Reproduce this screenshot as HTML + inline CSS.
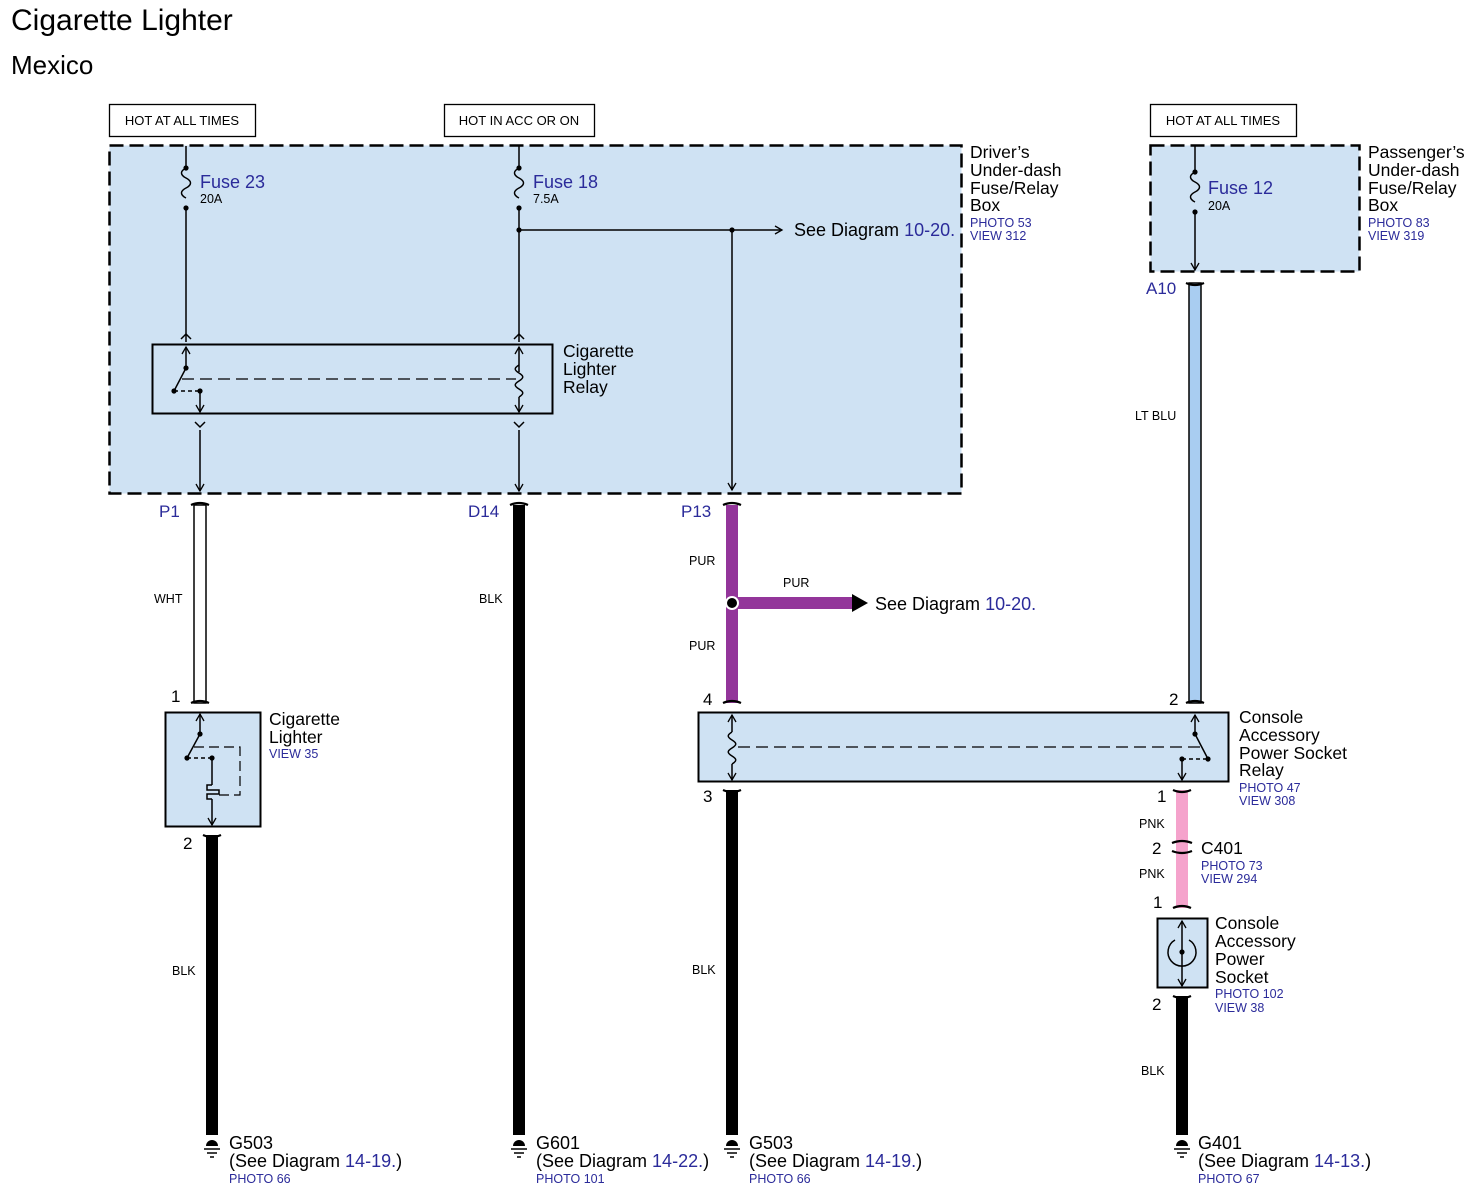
<!DOCTYPE html>
<html><head><meta charset="utf-8"><style>
html,body{margin:0;padding:0;background:#fff}
svg{display:block}
text{font-family:"Liberation Sans",sans-serif}
.b{fill:#2b2b9a}
</style></head><body>
<svg width="1478" height="1191" viewBox="0 0 1478 1191" xmlns="http://www.w3.org/2000/svg">
<defs>
<marker id="ah" markerWidth="10" markerHeight="10" refX="8" refY="5" orient="auto" markerUnits="userSpaceOnUse"><path d="M1,1 L8,5 L1,9" fill="none" stroke="#000" stroke-width="1.3"/></marker>
</defs>
<text x="11" y="30" font-size="30">Cigarette Lighter</text>
<text x="11" y="74" font-size="26">Mexico</text>

<g font-size="13" stroke-width="1.3">
<rect x="109.5" y="104.5" width="146" height="32" fill="#fff" stroke="#000"/>
<text x="182" y="125" text-anchor="middle">HOT AT ALL TIMES</text>
<rect x="444.5" y="104.5" width="150" height="32" fill="#fff" stroke="#000"/>
<text x="519" y="125" text-anchor="middle">HOT IN ACC OR ON</text>
<rect x="1150.5" y="104.5" width="146" height="32" fill="#fff" stroke="#000"/>
<text x="1223" y="125" text-anchor="middle">HOT AT ALL TIMES</text>
</g>

<rect x="109.5" y="145.5" width="852" height="348" fill="#cfe2f3" stroke="#000" stroke-width="2.5" stroke-dasharray="14,6"/>
<rect x="1150.5" y="145.5" width="209" height="126" fill="#cfe2f3" stroke="#000" stroke-width="2.5" stroke-dasharray="14,6"/>

<g font-size="17.5">
<text x="970" y="158">Driver’s</text><text x="970" y="176">Under-dash</text><text x="970" y="194">Fuse/Relay</text><text x="970" y="211">Box</text>
<text x="1368" y="158">Passenger’s</text><text x="1368" y="176">Under-dash</text><text x="1368" y="194">Fuse/Relay</text><text x="1368" y="211">Box</text>
</g>
<g font-size="12.5" class="b">
<text x="970" y="227">PHOTO 53</text><text x="970" y="240">VIEW 312</text>
<text x="1368" y="227">PHOTO 83</text><text x="1368" y="240">VIEW 319</text>
</g>

<g stroke="#000" stroke-width="1.5" fill="none">
<line x1="186" y1="146" x2="186" y2="168"/>
<path d="M186,168 c-6,3 -6,7 0,10 c6,3 6,7 0,10 c-6,3 -6,7 0,10"/>
<line x1="186" y1="208" x2="186" y2="342"/>
<line x1="519" y1="146" x2="519" y2="168"/>
<path d="M519,168 c-6,3 -6,7 0,10 c6,3 6,7 0,10 c-6,3 -6,7 0,10"/>
<line x1="519" y1="208" x2="519" y2="342"/>
<line x1="519" y1="230" x2="782" y2="230" marker-end="url(#ah)"/>
<line x1="732" y1="230" x2="732" y2="490" marker-end="url(#ah)"/>
<line x1="1195" y1="146" x2="1195" y2="172"/>
<path d="M1195,172 c-6,3 -6,7 0,10 c6,3 6,7 0,10 c-6,3 -6,7 0,10"/>
<line x1="1195" y1="212" x2="1195" y2="270" marker-end="url(#ah)"/>
<path d="M181,339 l5,-5 l5,5 M514,339 l5,-5 l5,5 M195,422 l5,5 l5,-5 M514,422 l5,5 l5,-5"/>
</g>
<g fill="#000">
<circle cx="186" cy="168" r="2.6"/><circle cx="186" cy="208" r="2.6"/>
<circle cx="519" cy="168" r="2.6"/><circle cx="519" cy="208" r="2.6"/><circle cx="519" cy="230" r="2.6"/><circle cx="732" cy="230" r="2.6"/>
<circle cx="1195" cy="172" r="2.6"/><circle cx="1195" cy="212" r="2.6"/>
</g>
<g font-size="18" class="b"><text x="200" y="188">Fuse 23</text><text x="533" y="188">Fuse 18</text><text x="1208" y="194">Fuse 12</text></g>
<g font-size="12.5"><text x="200" y="203">20A</text><text x="533" y="203">7.5A</text><text x="1208" y="210">20A</text></g>
<text x="794" y="236" font-size="18">See Diagram <tspan class="b">10-20.</tspan></text>

<rect x="152.5" y="344.5" width="400" height="69" fill="#cfe2f3" stroke="#000" stroke-width="2"/>
<g stroke="#000" stroke-width="1.5" fill="none">
<line x1="186" y1="368" x2="186" y2="347" marker-end="url(#ah)"/>
<line x1="186" y1="368" x2="174" y2="391"/>
<path d="M174,391 L200,391" stroke-dasharray="4,3"/>
<line x1="200" y1="391" x2="200" y2="412" marker-end="url(#ah)"/>
<line x1="182" y1="379" x2="516" y2="379" stroke-dasharray="12,6" stroke-width="1.2"/>
<line x1="519" y1="372" x2="519" y2="347" marker-end="url(#ah)"/>
<path d="M519,365 c-5,3 -5,5 0,8 c5,3 5,5 0,8 c-5,3 -5,5 0,8 c5,3 5,5 0,8"/>
<line x1="519" y1="397" x2="519" y2="412" marker-end="url(#ah)"/>
<line x1="200" y1="430" x2="200" y2="491" marker-end="url(#ah)"/>
<line x1="519" y1="430" x2="519" y2="491" marker-end="url(#ah)"/>
</g>
<circle cx="186" cy="368" r="2.6"/><circle cx="174" cy="391" r="2.6"/><circle cx="200" cy="391" r="2.6"/>
<g font-size="17.5"><text x="563" y="357">Cigarette</text><text x="563" y="375">Lighter</text><text x="563" y="393">Relay</text></g>

<g font-size="17" class="b"><text x="159" y="517">P1</text><text x="468" y="517">D14</text><text x="681" y="517">P13</text><text x="1146" y="294">A10</text></g>

<rect x="194" y="505" width="12" height="198" fill="#fff" stroke="#000" stroke-width="1.5"/>
<rect x="513" y="505" width="12" height="630" fill="#000"/>
<rect x="726" y="505" width="12" height="198" fill="#93359a"/>
<rect x="738" y="597" width="117" height="12" fill="#93359a"/>
<path d="M852,594 L868,603 L852,612 Z" fill="#000"/>
<circle cx="732" cy="603" r="7" fill="#fff"/><circle cx="732" cy="603" r="5" fill="#000"/>
<rect x="1189" y="283" width="12" height="420" fill="#a9cdf1" stroke="#000" stroke-width="1.5"/>
<rect x="206" y="835" width="12" height="300" fill="#000"/>
<rect x="726" y="790" width="12" height="345" fill="#000"/>
<rect x="1176" y="790" width="12" height="118" fill="#f5a3cc"/>
<rect x="1176" y="996" width="12" height="139" fill="#000"/>

<g stroke="#000" stroke-width="2.2" fill="none">
<path d="M191,505 q9,-4 18,0 M510,505 q9,-4 18,0 M723,505 q9,-4 18,0"/>
<path d="M191,703 q9,-4 18,0 M723,703 q9,-4 18,0 M1186,703 q9,-4 18,0 M1186,283 q9,4 18,0"/>
<path d="M203,835 q9,4 18,0 M723,790 q9,4 18,0 M1173,790 q9,4 18,0 M1173,908 q9,-4 18,0 M1173,996 q9,4 18,0"/>
<path d="M1172,843 q10,-4 20,0 M1172,851 q10,4 20,0"/>
</g>
<g font-size="12.5">
<text x="154" y="603">WHT</text><text x="479" y="603">BLK</text><text x="689" y="565">PUR</text><text x="783" y="587">PUR</text><text x="689" y="650">PUR</text>
<text x="1135" y="420">LT BLU</text><text x="172" y="975">BLK</text><text x="692" y="974">BLK</text>
<text x="1139" y="828">PNK</text><text x="1139" y="878">PNK</text><text x="1141" y="1075">BLK</text>
</g>
<text x="875" y="610" font-size="18">See Diagram <tspan class="b">10-20.</tspan></text>

<rect x="165.5" y="712.5" width="95" height="114" fill="#cfe2f3" stroke="#000" stroke-width="2"/>
<g stroke="#000" stroke-width="1.5" fill="none">
<line x1="200" y1="734" x2="200" y2="714" marker-end="url(#ah)"/>
<line x1="200" y1="734" x2="187" y2="758"/>
<path d="M187,758 L212,758" stroke-dasharray="4,3"/>
<path d="M194,747 L240,747 L240,795 L215,795" stroke-dasharray="10,5" stroke-width="1.2"/>
<line x1="212" y1="758" x2="212" y2="785"/>
<path d="M212,785 h-5 v5 h12 v4 h-12 v5 h5"/>
<line x1="212" y1="799" x2="212" y2="825" marker-end="url(#ah)"/>
</g>
<circle cx="200" cy="734" r="2.6"/><circle cx="187" cy="758" r="2.6"/><circle cx="212" cy="758" r="2.6"/>
<g font-size="17.5"><text x="269" y="725">Cigarette</text><text x="269" y="743">Lighter</text></g>
<text x="269" y="758" font-size="12.5" class="b">VIEW 35</text>
<g font-size="17"><text x="171" y="702">1</text><text x="183" y="849">2</text><text x="703" y="705">4</text><text x="703" y="802">3</text><text x="1169" y="705">2</text><text x="1157" y="802">1</text><text x="1152" y="854">2</text><text x="1153" y="908">1</text><text x="1152" y="1010">2</text></g>

<rect x="698.5" y="712.5" width="530" height="69" fill="#cfe2f3" stroke="#000" stroke-width="2"/>
<g stroke="#000" stroke-width="1.5" fill="none">
<line x1="732" y1="732" x2="732" y2="715" marker-end="url(#ah)"/>
<path d="M732,732 c-5,3 -5,5 0,8 c5,3 5,5 0,8 c-5,3 -5,5 0,8 c5,3 5,5 0,8"/>
<line x1="732" y1="764" x2="732" y2="780" marker-end="url(#ah)"/>
<line x1="738" y1="747" x2="1200" y2="747" stroke-dasharray="12,6" stroke-width="1.2"/>
<line x1="1195" y1="734" x2="1195" y2="715" marker-end="url(#ah)"/>
<line x1="1195" y1="734" x2="1208" y2="759"/>
<path d="M1182,759 L1208,759" stroke-dasharray="4,3"/>
<line x1="1182" y1="759" x2="1182" y2="780" marker-end="url(#ah)"/>
</g>
<circle cx="1195" cy="734" r="2.6"/><circle cx="1208" cy="759" r="2.6"/><circle cx="1182" cy="759" r="2.6"/>
<g font-size="17.5"><text x="1239" y="723">Console</text><text x="1239" y="741">Accessory</text><text x="1239" y="759">Power Socket</text><text x="1239" y="776">Relay</text>
<text x="1201" y="854">C401</text>
<text x="1215" y="929">Console</text><text x="1215" y="947">Accessory</text><text x="1215" y="965">Power</text><text x="1215" y="983">Socket</text></g>
<g font-size="12.5" class="b"><text x="1239" y="792">PHOTO 47</text><text x="1239" y="805">VIEW 308</text>
<text x="1201" y="870">PHOTO 73</text><text x="1201" y="883">VIEW 294</text>
<text x="1215" y="998">PHOTO 102</text><text x="1215" y="1012">VIEW 38</text></g>

<rect x="1157.5" y="918.5" width="50" height="69" fill="#cfe2f3" stroke="#000" stroke-width="2"/>
<g stroke="#000" stroke-width="1.5" fill="none">
<line x1="1182" y1="952" x2="1182" y2="921" marker-end="url(#ah)"/>
<line x1="1182" y1="952" x2="1182" y2="986" marker-end="url(#ah)"/>
<path d="M1175,940 A14,14 0 1 0 1189,940"/>
</g>
<circle cx="1182" cy="952" r="2.6"/>

<g>
<g transform="translate(212,0)"><path d="M-6,1146 a6,6 0 1 1 12,0 z"/><line x1="-8" y1="1149" x2="8" y2="1149" stroke="#000" stroke-width="1.5"/><line x1="-5" y1="1153" x2="5" y2="1153" stroke="#000" stroke-width="1.5"/><line x1="-2" y1="1157" x2="2" y2="1157" stroke="#000" stroke-width="1.5"/></g>
<g transform="translate(519,0)"><path d="M-6,1146 a6,6 0 1 1 12,0 z"/><line x1="-8" y1="1149" x2="8" y2="1149" stroke="#000" stroke-width="1.5"/><line x1="-5" y1="1153" x2="5" y2="1153" stroke="#000" stroke-width="1.5"/><line x1="-2" y1="1157" x2="2" y2="1157" stroke="#000" stroke-width="1.5"/></g>
<g transform="translate(732,0)"><path d="M-6,1146 a6,6 0 1 1 12,0 z"/><line x1="-8" y1="1149" x2="8" y2="1149" stroke="#000" stroke-width="1.5"/><line x1="-5" y1="1153" x2="5" y2="1153" stroke="#000" stroke-width="1.5"/><line x1="-2" y1="1157" x2="2" y2="1157" stroke="#000" stroke-width="1.5"/></g>
<g transform="translate(1182,0)"><path d="M-6,1146 a6,6 0 1 1 12,0 z"/><line x1="-8" y1="1149" x2="8" y2="1149" stroke="#000" stroke-width="1.5"/><line x1="-5" y1="1153" x2="5" y2="1153" stroke="#000" stroke-width="1.5"/><line x1="-2" y1="1157" x2="2" y2="1157" stroke="#000" stroke-width="1.5"/></g>
</g>
<g font-size="18">
<text x="229" y="1149">G503</text><text x="229" y="1167">(See Diagram <tspan class="b">14-19.</tspan>)</text>
<text x="536" y="1149">G601</text><text x="536" y="1167">(See Diagram <tspan class="b">14-22.</tspan>)</text>
<text x="749" y="1149">G503</text><text x="749" y="1167">(See Diagram <tspan class="b">14-19.</tspan>)</text>
<text x="1198" y="1149">G401</text><text x="1198" y="1167">(See Diagram <tspan class="b">14-13.</tspan>)</text>
</g>
<g font-size="12.5" class="b">
<text x="229" y="1183">PHOTO 66</text><text x="536" y="1183">PHOTO 101</text><text x="749" y="1183">PHOTO 66</text><text x="1198" y="1183">PHOTO 67</text>
</g>
</svg>
</body></html>
